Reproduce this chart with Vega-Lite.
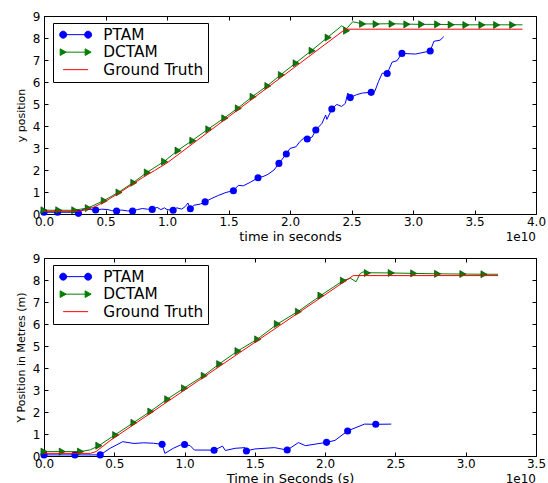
{
"$schema": "https://vega.github.io/schema/vega-lite/v6.json",
"background": "white",
"padding": {"left": 14, "top": 9, "right": 5, "bottom": 0},
"bounds": "flush",
"spacing": 44,
"resolve": {"legend": {"color": "independent"}},
"config": {
  "font": "DejaVu Sans",
  "view": {"stroke": "black", "strokeWidth": 1},
  "axis": {"grid": false, "domain": false, "tickColor": "black", "tickSize": -4, "tickWidth": 1, "labelColor": "black", "labelFontSize": 12, "titleFontSize": 13, "titleFontWeight": "normal", "titleColor": "black", "labelFlush": false, "labelOverlap": false, "labelFont": "DejaVu Sans", "titleFont": "DejaVu Sans"},
  "legend": {"title": null, "orient": "none", "legendX": 9, "legendY": 7, "strokeColor": "black", "fillColor": "white", "cornerRadius": 0, "padding": 4, "labelFontSize": 15.3, "labelFont": "DejaVu Sans", "labelColor": "black", "symbolSize": 144, "symbolOffset": 11, "labelOffset": 20, "rowPadding": 1.5, "symbolStrokeWidth": 1}
},
"datasets": {
  "top_lines": [
    {"series":"PTAM","t":0,"y":0.08},{"series":"PTAM","t":0.11,"y":0.08},{"series":"PTAM","t":0.26,"y":0.08},{"series":"PTAM","t":0.28,"y":0.03},{"series":"PTAM","t":0.31,"y":0.2},{"series":"PTAM","t":0.34,"y":0.24},{"series":"PTAM","t":0.38,"y":0.2},{"series":"PTAM","t":0.42,"y":0.18},{"series":"PTAM","t":0.47,"y":0.22},{"series":"PTAM","t":0.52,"y":0.2},{"series":"PTAM","t":0.55,"y":0.15},{"series":"PTAM","t":0.59,"y":0.14},{"series":"PTAM","t":0.63,"y":0.18},{"series":"PTAM","t":0.68,"y":0.14},{"series":"PTAM","t":0.72,"y":0.14},{"series":"PTAM","t":0.76,"y":0.2},{"series":"PTAM","t":0.8,"y":0.25},{"series":"PTAM","t":0.84,"y":0.22},{"series":"PTAM","t":0.88,"y":0.21},{"series":"PTAM","t":0.92,"y":0.3},{"series":"PTAM","t":0.95,"y":0.2},{"series":"PTAM","t":0.98,"y":0.28},{"series":"PTAM","t":1.0,"y":0.2},{"series":"PTAM","t":1.05,"y":0.17},{"series":"PTAM","t":1.08,"y":0.28},{"series":"PTAM","t":1.12,"y":0.22},{"series":"PTAM","t":1.15,"y":0.35},{"series":"PTAM","t":1.17,"y":0.5},{"series":"PTAM","t":1.19,"y":0.24},{"series":"PTAM","t":1.22,"y":0.4},{"series":"PTAM","t":1.27,"y":0.45},{"series":"PTAM","t":1.31,"y":0.55},{"series":"PTAM","t":1.36,"y":0.7},{"series":"PTAM","t":1.42,"y":0.85},{"series":"PTAM","t":1.48,"y":0.98},{"series":"PTAM","t":1.54,"y":1.06},{"series":"PTAM","t":1.58,"y":1.3},{"series":"PTAM","t":1.62,"y":1.28},{"series":"PTAM","t":1.68,"y":1.45},{"series":"PTAM","t":1.74,"y":1.65},{"series":"PTAM","t":1.78,"y":1.7},{"series":"PTAM","t":1.82,"y":1.8},{"series":"PTAM","t":1.87,"y":2.0},{"series":"PTAM","t":1.91,"y":2.3},{"series":"PTAM","t":1.97,"y":2.73},{"series":"PTAM","t":2.0,"y":2.98},{"series":"PTAM","t":2.05,"y":3.06},{"series":"PTAM","t":2.08,"y":3.29},{"series":"PTAM","t":2.11,"y":3.44},{"series":"PTAM","t":2.14,"y":3.41},{"series":"PTAM","t":2.18,"y":3.5},{"series":"PTAM","t":2.21,"y":3.82},{"series":"PTAM","t":2.26,"y":4.12},{"series":"PTAM","t":2.29,"y":4.5},{"series":"PTAM","t":2.3,"y":4.3},{"series":"PTAM","t":2.34,"y":4.77},{"series":"PTAM","t":2.38,"y":4.98},{"series":"PTAM","t":2.42,"y":4.89},{"series":"PTAM","t":2.45,"y":5.03},{"series":"PTAM","t":2.47,"y":5.5},{"series":"PTAM","t":2.49,"y":5.29},{"series":"PTAM","t":2.54,"y":5.42},{"series":"PTAM","t":2.59,"y":5.5},{"series":"PTAM","t":2.66,"y":5.53},{"series":"PTAM","t":2.69,"y":5.58},{"series":"PTAM","t":2.72,"y":6.03},{"series":"PTAM","t":2.75,"y":6.4},{"series":"PTAM","t":2.79,"y":6.39},{"series":"PTAM","t":2.83,"y":6.9},{"series":"PTAM","t":2.87,"y":6.97},{"series":"PTAM","t":2.91,"y":7.3},{"series":"PTAM","t":3.02,"y":7.27},{"series":"PTAM","t":3.14,"y":7.41},{"series":"PTAM","t":3.17,"y":7.85},{"series":"PTAM","t":3.22,"y":7.9},{"series":"PTAM","t":3.25,"y":8.06},
    {"series":"DCTAM","t":0,"y":0.17},{"series":"DCTAM","t":0.12,"y":0.17},{"series":"DCTAM","t":0.25,"y":0.17},{"series":"DCTAM","t":0.36,"y":0.28},{"series":"DCTAM","t":0.49,"y":0.62},{"series":"DCTAM","t":0.61,"y":1.0},{"series":"DCTAM","t":0.73,"y":1.45},{"series":"DCTAM","t":0.84,"y":1.9},{"series":"DCTAM","t":0.98,"y":2.4},{"series":"DCTAM","t":1.09,"y":2.9},{"series":"DCTAM","t":1.21,"y":3.36},{"series":"DCTAM","t":1.34,"y":3.88},{"series":"DCTAM","t":1.47,"y":4.38},{"series":"DCTAM","t":1.58,"y":4.83},{"series":"DCTAM","t":1.7,"y":5.36},{"series":"DCTAM","t":1.82,"y":5.85},{"series":"DCTAM","t":1.93,"y":6.35},{"series":"DCTAM","t":2.05,"y":6.88},{"series":"DCTAM","t":2.18,"y":7.45},{"series":"DCTAM","t":2.31,"y":8.05},{"series":"DCTAM","t":2.42,"y":8.55},{"series":"DCTAM","t":2.46,"y":8.42},{"series":"DCTAM","t":2.51,"y":8.74},{"series":"DCTAM","t":2.59,"y":8.64},{"series":"DCTAM","t":2.7,"y":8.64},{"series":"DCTAM","t":2.83,"y":8.65},{"series":"DCTAM","t":2.95,"y":8.63},{"series":"DCTAM","t":3.07,"y":8.62},{"series":"DCTAM","t":3.2,"y":8.62},{"series":"DCTAM","t":3.31,"y":8.61},{"series":"DCTAM","t":3.43,"y":8.6},{"series":"DCTAM","t":3.56,"y":8.6},{"series":"DCTAM","t":3.68,"y":8.6},{"series":"DCTAM","t":3.81,"y":8.6},{"series":"DCTAM","t":3.89,"y":8.6},
    {"series":"Ground Truth","t":0,"y":0.12},{"series":"Ground Truth","t":0.28,"y":0.12},{"series":"Ground Truth","t":0.33,"y":0.18},{"series":"Ground Truth","t":0.4,"y":0.3},{"series":"Ground Truth","t":0.5,"y":0.58},{"series":"Ground Truth","t":0.6,"y":0.92},{"series":"Ground Truth","t":0.7,"y":1.28},{"series":"Ground Truth","t":0.8,"y":1.65},{"series":"Ground Truth","t":0.9,"y":1.98},{"series":"Ground Truth","t":1.0,"y":2.32},{"series":"Ground Truth","t":2.45,"y":8.4},{"series":"Ground Truth","t":3.89,"y":8.4}
  ],
  "top_markers": [
    {"series":"PTAM","t":0,"y":0.08},{"series":"PTAM","t":0.11,"y":0.08},{"series":"PTAM","t":0.28,"y":0.03},{"series":"PTAM","t":0.42,"y":0.18},{"series":"PTAM","t":0.59,"y":0.14},{"series":"PTAM","t":0.72,"y":0.14},{"series":"PTAM","t":0.88,"y":0.21},{"series":"PTAM","t":1.05,"y":0.17},{"series":"PTAM","t":1.19,"y":0.24},{"series":"PTAM","t":1.31,"y":0.55},{"series":"PTAM","t":1.54,"y":1.06},{"series":"PTAM","t":1.74,"y":1.65},{"series":"PTAM","t":1.91,"y":2.3},{"series":"PTAM","t":1.97,"y":2.73},{"series":"PTAM","t":2.14,"y":3.41},{"series":"PTAM","t":2.21,"y":3.82},{"series":"PTAM","t":2.34,"y":4.77},{"series":"PTAM","t":2.49,"y":5.29},{"series":"PTAM","t":2.66,"y":5.53},{"series":"PTAM","t":2.79,"y":6.39},{"series":"PTAM","t":2.91,"y":7.3},{"series":"PTAM","t":3.14,"y":7.41},
    {"series":"DCTAM","t":0,"y":0.17},{"series":"DCTAM","t":0.12,"y":0.17},{"series":"DCTAM","t":0.25,"y":0.17},{"series":"DCTAM","t":0.36,"y":0.27},{"series":"DCTAM","t":0.49,"y":0.6},{"series":"DCTAM","t":0.61,"y":0.98},{"series":"DCTAM","t":0.73,"y":1.42},{"series":"DCTAM","t":0.84,"y":1.89},{"series":"DCTAM","t":0.98,"y":2.38},{"series":"DCTAM","t":1.09,"y":2.88},{"series":"DCTAM","t":1.21,"y":3.33},{"series":"DCTAM","t":1.34,"y":3.85},{"series":"DCTAM","t":1.47,"y":4.35},{"series":"DCTAM","t":1.58,"y":4.8},{"series":"DCTAM","t":1.7,"y":5.33},{"series":"DCTAM","t":1.82,"y":5.82},{"series":"DCTAM","t":1.93,"y":6.32},{"series":"DCTAM","t":2.05,"y":6.85},{"series":"DCTAM","t":2.18,"y":7.42},{"series":"DCTAM","t":2.31,"y":8.02},{"series":"DCTAM","t":2.46,"y":8.33},{"series":"DCTAM","t":2.59,"y":8.64},{"series":"DCTAM","t":2.7,"y":8.63},{"series":"DCTAM","t":2.83,"y":8.64},{"series":"DCTAM","t":2.95,"y":8.62},{"series":"DCTAM","t":3.07,"y":8.62},{"series":"DCTAM","t":3.2,"y":8.62},{"series":"DCTAM","t":3.31,"y":8.6},{"series":"DCTAM","t":3.43,"y":8.59},{"series":"DCTAM","t":3.56,"y":8.59},{"series":"DCTAM","t":3.68,"y":8.59},{"series":"DCTAM","t":3.81,"y":8.59}
  ],
  "bottom_lines": [
    {"series":"PTAM","t":0,"y":0.05},{"series":"PTAM","t":0.22,"y":0.05},{"series":"PTAM","t":0.4,"y":0.05},{"series":"PTAM","t":0.47,"y":0.35},{"series":"PTAM","t":0.56,"y":0.65},{"series":"PTAM","t":0.64,"y":0.57},{"series":"PTAM","t":0.71,"y":0.6},{"series":"PTAM","t":0.78,"y":0.58},{"series":"PTAM","t":0.84,"y":0.53},{"series":"PTAM","t":0.86,"y":0.12},{"series":"PTAM","t":0.92,"y":0.35},{"series":"PTAM","t":0.97,"y":0.5},{"series":"PTAM","t":1.0,"y":0.52},{"series":"PTAM","t":1.04,"y":0.47},{"series":"PTAM","t":1.07,"y":0.27},{"series":"PTAM","t":1.16,"y":0.27},{"series":"PTAM","t":1.21,"y":0.26},{"series":"PTAM","t":1.27,"y":0.45},{"series":"PTAM","t":1.29,"y":0.25},{"series":"PTAM","t":1.36,"y":0.35},{"series":"PTAM","t":1.43,"y":0.38},{"series":"PTAM","t":1.44,"y":0.23},{"series":"PTAM","t":1.5,"y":0.32},{"series":"PTAM","t":1.64,"y":0.38},{"series":"PTAM","t":1.73,"y":0.27},{"series":"PTAM","t":1.81,"y":0.61},{"series":"PTAM","t":1.86,"y":0.47},{"series":"PTAM","t":2.01,"y":0.62},{"series":"PTAM","t":2.07,"y":0.71},{"series":"PTAM","t":2.16,"y":1.14},{"series":"PTAM","t":2.28,"y":1.45},{"series":"PTAM","t":2.36,"y":1.44},{"series":"PTAM","t":2.47,"y":1.45},
    {"series":"DCTAM","t":0,"y":0.2},{"series":"DCTAM","t":0.13,"y":0.2},{"series":"DCTAM","t":0.26,"y":0.2},{"series":"DCTAM","t":0.33,"y":0.28},{"series":"DCTAM","t":0.39,"y":0.47},{"series":"DCTAM","t":0.51,"y":0.98},{"series":"DCTAM","t":0.64,"y":1.53},{"series":"DCTAM","t":0.76,"y":2.04},{"series":"DCTAM","t":0.88,"y":2.6},{"series":"DCTAM","t":1.0,"y":3.1},{"series":"DCTAM","t":1.14,"y":3.67},{"series":"DCTAM","t":1.25,"y":4.2},{"series":"DCTAM","t":1.38,"y":4.78},{"series":"DCTAM","t":1.52,"y":5.32},{"series":"DCTAM","t":1.66,"y":6.0},{"series":"DCTAM","t":1.81,"y":6.58},{"series":"DCTAM","t":1.97,"y":7.3},{"series":"DCTAM","t":2.13,"y":7.98},{"series":"DCTAM","t":2.18,"y":8.08},{"series":"DCTAM","t":2.22,"y":7.92},{"series":"DCTAM","t":2.25,"y":8.3},{"series":"DCTAM","t":2.27,"y":8.37},{"series":"DCTAM","t":2.3,"y":8.33},{"series":"DCTAM","t":2.47,"y":8.32},{"series":"DCTAM","t":2.63,"y":8.3},{"series":"DCTAM","t":2.8,"y":8.28},{"series":"DCTAM","t":2.98,"y":8.27},{"series":"DCTAM","t":3.13,"y":8.26},{"series":"DCTAM","t":3.23,"y":8.26},
    {"series":"Ground Truth","t":0,"y":0.12},{"series":"Ground Truth","t":0.33,"y":0.12},{"series":"Ground Truth","t":0.37,"y":0.2},{"series":"Ground Truth","t":0.42,"y":0.45},{"series":"Ground Truth","t":0.47,"y":0.7},{"series":"Ground Truth","t":2.2,"y":8.2},{"series":"Ground Truth","t":3.23,"y":8.2}
  ],
  "bottom_markers": [
    {"series":"PTAM","t":0,"y":0.05},{"series":"PTAM","t":0.22,"y":0.05},{"series":"PTAM","t":0.4,"y":0.05},{"series":"PTAM","t":0.84,"y":0.53},{"series":"PTAM","t":1.0,"y":0.52},{"series":"PTAM","t":1.21,"y":0.26},{"series":"PTAM","t":1.44,"y":0.23},{"series":"PTAM","t":1.73,"y":0.27},{"series":"PTAM","t":2.01,"y":0.62},{"series":"PTAM","t":2.16,"y":1.14},{"series":"PTAM","t":2.36,"y":1.44},
    {"series":"DCTAM","t":0,"y":0.2},{"series":"DCTAM","t":0.13,"y":0.2},{"series":"DCTAM","t":0.26,"y":0.2},{"series":"DCTAM","t":0.39,"y":0.47},{"series":"DCTAM","t":0.51,"y":0.95},{"series":"DCTAM","t":0.64,"y":1.51},{"series":"DCTAM","t":0.76,"y":2.02},{"series":"DCTAM","t":0.88,"y":2.58},{"series":"DCTAM","t":1.0,"y":3.08},{"series":"DCTAM","t":1.14,"y":3.65},{"series":"DCTAM","t":1.25,"y":4.18},{"series":"DCTAM","t":1.38,"y":4.77},{"series":"DCTAM","t":1.52,"y":5.3},{"series":"DCTAM","t":1.66,"y":6.0},{"series":"DCTAM","t":1.81,"y":6.56},{"series":"DCTAM","t":1.97,"y":7.29},{"series":"DCTAM","t":2.13,"y":7.97},{"series":"DCTAM","t":2.3,"y":8.32},{"series":"DCTAM","t":2.47,"y":8.32},{"series":"DCTAM","t":2.63,"y":8.3},{"series":"DCTAM","t":2.8,"y":8.28},{"series":"DCTAM","t":2.98,"y":8.27},{"series":"DCTAM","t":3.13,"y":8.26}
  ]
},
"vconcat": [
  {
    "width": 492, "height": 198,
    "resolve": {"axis": {"x": "independent", "y": "independent"}},
    "encoding": {
      "x": {"field": "t", "type": "quantitative", "scale": {"domain": [0, 4], "nice": false, "zero": false}, "axis": null},
      "y": {"field": "y", "type": "quantitative", "scale": {"domain": [0, 9], "nice": false}, "axis": null},
      "color": {"field": "series", "type": "nominal", "scale": {"domain": ["PTAM", "DCTAM", "Ground Truth"], "range": ["#0000ff", "#008000", "#ff0000"]},
        "legend": {"encode": {"symbols": {"update": {
          "shape": {"signal": "datum.value === 'PTAM' ? 'M-2.08,0H2.08M-1.5,0A0.58,0.58 0 1,1 -2.66,0A0.58,0.58 0 1,1 -1.5,0M2.66,0A0.58,0.58 0 1,1 1.5,0A0.58,0.58 0 1,1 2.66,0' : datum.value === 'DCTAM' ? 'M-2.08,0H2.08M-2.58,-0.55L-1.58,0L-2.58,0.55ZM1.58,-0.55L2.58,0L1.58,0.55Z' : 'M-2.08,0H2.08'"},
          "fill": {"signal": "datum.value === 'PTAM' ? '#0000ff' : datum.value === 'DCTAM' ? '#008000' : '#ff0000'"},
          "stroke": {"signal": "datum.value === 'PTAM' ? '#0000ff' : datum.value === 'DCTAM' ? '#008000' : '#ff3333'"},
          "strokeWidth": {"value": 1}, "opacity": {"value": 1}, "fillOpacity": {"value": 1}, "strokeOpacity": {"value": 1}}}}}}
    },
    "layer": [
      {"data": {"name": "top_lines"}, "transform": [{"filter": "datum.series === 'PTAM'"}], "mark": {"type": "line", "strokeWidth": 1},
       "encoding": {
         "x": {"field": "t", "type": "quantitative", "scale": {"domain": [0, 4], "nice": false, "zero": false}, "axis": {"orient": "bottom", "values": [0, 0.5, 1, 1.5, 2, 2.5, 3, 3.5, 4], "format": ".1f", "title": "time in seconds", "labelPadding": 6, "titlePadding": 3}},
         "y": {"field": "y", "type": "quantitative", "scale": {"domain": [0, 9], "nice": false}, "axis": {"orient": "left", "values": [0, 1, 2, 3, 4, 5, 6, 7, 8, 9], "format": "d", "title": "y position", "titleFontSize": 11, "labelPadding": 8, "titlePadding": 6}}}},
      {"data": {"name": "top_markers"}, "transform": [{"filter": "datum.series === 'PTAM'"}], "mark": {"type": "point", "shape": "circle", "filled": true, "size": 50, "opacity": 1}},
      {"data": {"name": "top_lines"}, "transform": [{"filter": "datum.series === 'DCTAM'"}], "mark": {"type": "line", "strokeWidth": 1}},
      {"data": {"name": "top_markers"}, "transform": [{"filter": "datum.series === 'DCTAM'"}], "mark": {"type": "point", "shape": "triangle-right", "filled": true, "size": 50, "opacity": 1, "stroke": "#0b3d0b", "strokeWidth": 0.6}},
      {"data": {"name": "top_lines"}, "transform": [{"filter": "datum.series === 'Ground Truth'"}], "mark": {"type": "line", "strokeWidth": 1},
       "encoding": {
         "x": {"field": "t", "type": "quantitative", "scale": {"domain": [0, 4], "nice": false, "zero": false}, "axis": {"orient": "top", "values": [0, 0.5, 1, 1.5, 2, 2.5, 3, 3.5, 4], "labels": false, "title": null}},
         "y": {"field": "y", "type": "quantitative", "scale": {"domain": [0, 9], "nice": false}, "axis": {"orient": "right", "values": [0, 1, 2, 3, 4, 5, 6, 7, 8, 9], "labels": false, "title": null}}}},
      {"data": {"values": [{"t": 4, "y": 0, "label": "1e10"}]}, "mark": {"type": "text", "align": "right", "baseline": "middle", "dy": 23, "fontSize": 12},
       "encoding": {"text": {"field": "label"}, "color": {"value": "black"}}}
    ]
  },
  {
    "width": 492, "height": 198,
    "resolve": {"axis": {"x": "independent", "y": "independent"}},
    "encoding": {
      "x": {"field": "t", "type": "quantitative", "scale": {"domain": [0, 3.5], "nice": false, "zero": false}, "axis": null},
      "y": {"field": "y", "type": "quantitative", "scale": {"domain": [0, 9], "nice": false}, "axis": null},
      "color": {"field": "series", "type": "nominal", "scale": {"domain": ["PTAM", "DCTAM", "Ground Truth"], "range": ["#0000ff", "#008000", "#ff0000"]},
        "legend": {"encode": {"symbols": {"update": {
          "shape": {"signal": "datum.value === 'PTAM' ? 'M-2.08,0H2.08M-1.5,0A0.58,0.58 0 1,1 -2.66,0A0.58,0.58 0 1,1 -1.5,0M2.66,0A0.58,0.58 0 1,1 1.5,0A0.58,0.58 0 1,1 2.66,0' : datum.value === 'DCTAM' ? 'M-2.08,0H2.08M-2.58,-0.55L-1.58,0L-2.58,0.55ZM1.58,-0.55L2.58,0L1.58,0.55Z' : 'M-2.08,0H2.08'"},
          "fill": {"signal": "datum.value === 'PTAM' ? '#0000ff' : datum.value === 'DCTAM' ? '#008000' : '#ff0000'"},
          "stroke": {"signal": "datum.value === 'PTAM' ? '#0000ff' : datum.value === 'DCTAM' ? '#008000' : '#ff3333'"},
          "strokeWidth": {"value": 1}, "opacity": {"value": 1}, "fillOpacity": {"value": 1}, "strokeOpacity": {"value": 1}}}}}}
    },
    "layer": [
      {"data": {"name": "bottom_lines"}, "transform": [{"filter": "datum.series === 'PTAM'"}], "mark": {"type": "line", "strokeWidth": 1},
       "encoding": {
         "x": {"field": "t", "type": "quantitative", "scale": {"domain": [0, 3.5], "nice": false, "zero": false}, "axis": {"orient": "bottom", "values": [0, 0.5, 1, 1.5, 2, 2.5, 3, 3.5], "format": ".1f", "title": "Time in Seconds (s)", "labelPadding": 6, "titlePadding": 3}},
         "y": {"field": "y", "type": "quantitative", "scale": {"domain": [0, 9], "nice": false}, "axis": {"orient": "left", "values": [0, 1, 2, 3, 4, 5, 6, 7, 8, 9], "format": "d", "title": "Y Position in Metres (m)", "titleFontSize": 11, "labelPadding": 8, "titlePadding": 6}}}},
      {"data": {"name": "bottom_markers"}, "transform": [{"filter": "datum.series === 'PTAM'"}], "mark": {"type": "point", "shape": "circle", "filled": true, "size": 50, "opacity": 1}},
      {"data": {"name": "bottom_lines"}, "transform": [{"filter": "datum.series === 'DCTAM'"}], "mark": {"type": "line", "strokeWidth": 1}},
      {"data": {"name": "bottom_markers"}, "transform": [{"filter": "datum.series === 'DCTAM'"}], "mark": {"type": "point", "shape": "triangle-right", "filled": true, "size": 50, "opacity": 1, "stroke": "#0b3d0b", "strokeWidth": 0.6}},
      {"data": {"name": "bottom_lines"}, "transform": [{"filter": "datum.series === 'Ground Truth'"}], "mark": {"type": "line", "strokeWidth": 1},
       "encoding": {
         "x": {"field": "t", "type": "quantitative", "scale": {"domain": [0, 3.5], "nice": false, "zero": false}, "axis": {"orient": "top", "values": [0, 0.5, 1, 1.5, 2, 2.5, 3, 3.5], "labels": false, "title": null}},
         "y": {"field": "y", "type": "quantitative", "scale": {"domain": [0, 9], "nice": false}, "axis": {"orient": "right", "values": [0, 1, 2, 3, 4, 5, 6, 7, 8, 9], "labels": false, "title": null}}}},
      {"data": {"values": [{"t": 3.5, "y": 0, "label": "1e10"}]}, "mark": {"type": "text", "align": "right", "baseline": "middle", "dy": 23, "fontSize": 12},
       "encoding": {"text": {"field": "label"}, "color": {"value": "black"}}}
    ]
  }
]
}
